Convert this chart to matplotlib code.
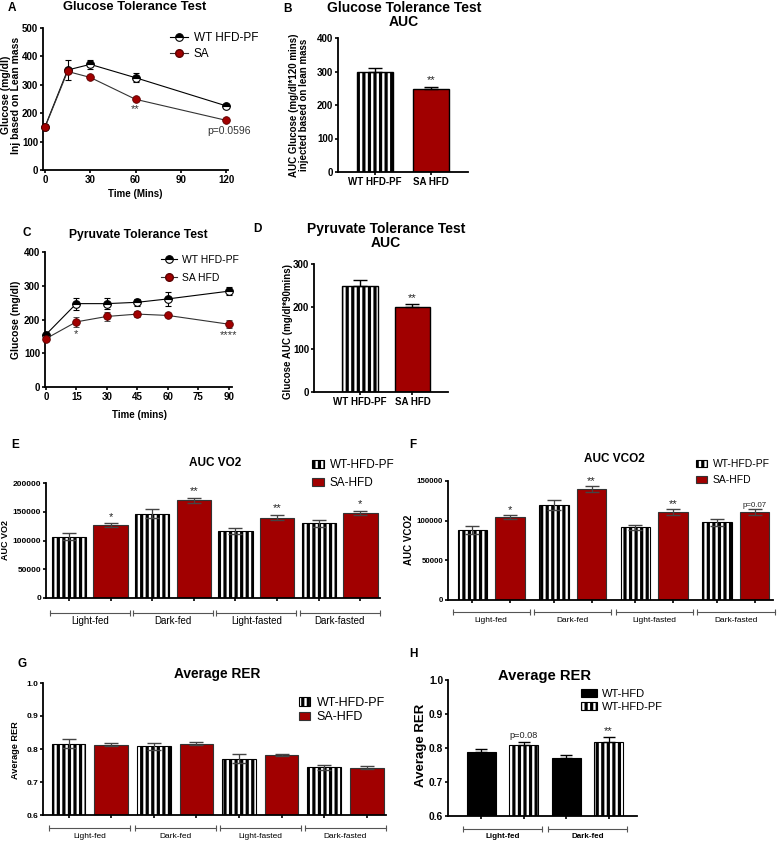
import matplotlib.pyplot as plt
import numpy as np
from matplotlib.lines import Line2D

W, H = 777, 841
RED = "#a10000"
GREY = "#444444"

plt.rcParams["font.family"] = ["Liberation Sans", "DejaVu Sans"]
plt.rcParams["hatch.linewidth"] = 2.3
plt.rcParams["axes.linewidth"] = 1.3

# A: glucose tolerance test
gtt_time = [0, 15, 30, 60, 120]
gtt_wt = [152, 352, 372, 325, 226]
gtt_wt_err = [6, 35, 17, 15, 6]
gtt_sa = [150, 347, 326, 249, 175]
gtt_sa_err = [5, 5, 5, 6, 4]

# B: GTT AUC
gtt_auc_labels = ["WT HFD-PF", "SA HFD"]
gtt_auc = [299, 248]
gtt_auc_err = [12, 7]

# C: pyruvate tolerance test
ptt_time = [0, 15, 30, 45, 60, 90]
ptt_wt = [155, 247, 247, 251, 261, 284]
ptt_wt_err = [6, 18, 16, 10, 20, 12]
ptt_sa = [143, 193, 209, 216, 212, 186]
ptt_sa_err = [8, 14, 14, 8, 5, 12]

# D: PTT AUC
ptt_auc_labels = ["WT HFD-PF", "SA HFD"]
ptt_auc = [249, 199]
ptt_auc_err = [14, 7]

# E-G: metabolic cages
phases = ["Light-fed", "Dark-fed", "Light-fasted", "Dark-fasted"]
vo2_wt = [106600, 146500, 117000, 130300]
vo2_wt_err = [6000, 7500, 5500, 6000]
vo2_sa = [126800, 170000, 140000, 147500]
vo2_sa_err = [3000, 4500, 5000, 4000]
vo2_marks = ["*", "**", "**", "*"]

vco2_wt = [88200, 119700, 91600, 97900]
vco2_wt_err = [5000, 6000, 3400, 4600]
vco2_sa = [104200, 140000, 110900, 110900]
vco2_sa_err = [2500, 3700, 3400, 3400]
vco2_marks = ["*", "**", "**", "p=0.07"]

rer_wt = [0.816, 0.808, 0.771, 0.744]
rer_wt_err = [0.014, 0.011, 0.013, 0.007]
rer_sa = [0.813, 0.816, 0.781, 0.743]
rer_sa_err = [0.005, 0.004, 0.003, 0.004]

# H: RER WT-HFD vs WT-HFD-PF
rer_h_phases = ["Light-fed", "Dark-fed"]
rer_hfd = [0.788, 0.772]
rer_hfd_err = [0.010, 0.007]
rer_pf = [0.810, 0.819]
rer_pf_err = [0.009, 0.012]
rer_h_marks = ["p=0.08", "**"]


def add_ax(fig, box):
    left, top, right, bottom = box
    ax = fig.add_axes([left / W, 1 - bottom / H, (right - left) / W, (bottom - top) / H])
    ax.spines[["top", "right"]].set_visible(False)
    ax.tick_params(direction="out", length=2.5, width=1.2, pad=1)
    return ax


def fig_text(fig, x, y, s, **kw):
    kw.setdefault("ha", "center")
    kw.setdefault("va", "center")
    fig.text(x / W, 1 - y / H, s, **kw)


def set_yticks(ax, ticks, fmt, size):
    ax.set_yticks(ticks, labels=[fmt.format(t) for t in ticks], fontweight="bold", fontsize=size)


def group_brackets(ax, box, centers, half, labels, dy_line, dy_text, size, weight="normal"):
    height = box[3] - box[1]
    trans = ax.get_xaxis_transform()
    for c, lab in zip(centers, labels):
        ax.plot([c - half, c + half], [-dy_line / height] * 2, transform=trans, clip_on=False,
                color="#555555", lw=0.8, marker="|", ms=5, mew=0.8)
        ax.text(c, -dy_text / height, lab, transform=trans, ha="center", va="center",
                fontsize=size, fontweight=weight)


def star(ax, x, y, s, size=8, dy=1.0):
    ax.annotate(s, xy=(x, y), xytext=(0, dy), textcoords="offset points",
                ha="center", va="bottom", fontsize=size, color="#222222")


def legend_at(ax, x, y, size, spacing, **kw):
    ax.legend(loc="upper left", bbox_to_anchor=(x / W, 1 - y / H), bbox_transform=fig.transFigure,
              frameon=False, fontsize=size, labelspacing=spacing, borderpad=0, borderaxespad=0,
              **kw)


def tolerance_panel(ax, t, wt, wt_err, sa, sa_err):
    ax.errorbar(t, wt, yerr=wt_err, color="black", lw=0.8, elinewidth=0.8, capsize=2.5,
                marker="o", ms=5.5, mfc="black", mfcalt="white", fillstyle="top", mec="black",
                mew=0.8, clip_on=False, zorder=3)
    ax.errorbar(t, sa, yerr=sa_err, color="#333333", lw=0.8, elinewidth=0.8, capsize=2.5,
                marker="o", ms=5.5, mfc=RED, mec="#5a0000", mew=0.6, clip_on=False, zorder=4)


def auc_panel(ax, labels, vals, errs, width):
    x = np.arange(len(vals))
    ax.bar(x[0], vals[0], width, color="white", edgecolor="black", hatch="|||", lw=1.0)
    ax.bar(x[1], vals[1], width, color=RED, edgecolor="black", lw=1.0)
    ax.errorbar(x, vals, yerr=[[0] * len(errs), errs], fmt="none", ecolor="black",
                elinewidth=1, capsize=5, capthick=1)
    ax.set_xticks(x, labels=labels, fontweight="bold", fontsize=7)
    return x


def paired_bars(ax, wt, wt_err, sa, sa_err, gap, width):
    g = np.arange(len(wt)) * (2 + gap)
    x_wt, x_sa = g, g + 1
    ax.bar(x_wt, wt, width, color="white", edgecolor="black", hatch="|||", lw=0.8,
           label="WT-HFD-PF")
    ax.bar(x_sa, sa, width, color=RED, edgecolor="#333333", lw=0.8, label="SA-HFD")
    ax.errorbar(x_wt, wt, yerr=wt_err, fmt="none", ecolor=GREY, elinewidth=0.9, capsize=5)
    ax.errorbar(x_sa, sa, yerr=sa_err, fmt="none", ecolor=GREY, elinewidth=0.9, capsize=5)
    ax.set_xticks(np.concatenate([x_wt, x_sa]))
    ax.tick_params(axis="x", labelbottom=False)
    return x_wt, x_sa, g + 0.5


fig = plt.figure(figsize=(W / 100, H / 100), dpi=100)

# ---------------- A ----------------
box_a = (43, 28, 228, 170)
ax = add_ax(fig, box_a)
tolerance_panel(ax, gtt_time, gtt_wt, gtt_wt_err, gtt_sa, gtt_sa_err)
ax.set_xlim(-1.3, 121.3)
ax.set_ylim(0, 500)
ax.set_xticks([0, 30, 60, 90, 120], labels=["0", "30", "60", "90", "120"],
              fontweight="bold", fontsize=7)
set_yticks(ax, [0, 100, 200, 300, 400, 500], "{}", 7)
ax.annotate("**", xy=(60, gtt_sa[3] - gtt_sa_err[3]), xytext=(0, -2), textcoords="offset points",
            ha="center", va="top", fontsize=8, color="#333333")
ax.annotate("p=0.0596", xy=(120, gtt_sa[4]), xytext=(2, -4), textcoords="offset points",
            ha="center", va="top", fontsize=7.5, color="#333333")
handles = [Line2D([], [], color="black", lw=0.8, marker="o", ms=5.5, mfc="black",
                  mfcalt="white", fillstyle="top", mec="black", mew=0.8),
           Line2D([], [], color="#333333", lw=0.8, marker="o", ms=5.5, mfc=RED, mec="#5a0000")]
ax.legend(handles, ["WT HFD-PF", "SA"], loc="upper left", bbox_to_anchor=(170 / W, 1 - 32 / H),
          bbox_transform=fig.transFigure, frameon=False, fontsize=8.5, handlelength=1.5,
          handletextpad=0.5, labelspacing=0.35, borderpad=0, borderaxespad=0)
fig_text(fig, 135, 194, "Time (Mins)", fontsize=7, fontweight="bold")
fig_text(fig, 11, 95, "Glucose (mg/dl)\nInj based on Lean mass", rotation=90, fontsize=7.5,
         fontweight="bold", linespacing=1.0)
fig_text(fig, 135, 7, "Glucose Tolerance Test", fontsize=9.3, fontweight="bold")
fig_text(fig, 12, 8, "A", fontsize=8.5, fontweight="bold")

# ---------------- B ----------------
box_b = (338, 38, 468, 172)
ax = add_ax(fig, box_b)
x = auc_panel(ax, gtt_auc_labels, gtt_auc, gtt_auc_err, 0.65)
ax.set_xlim(-0.66, 1.66)
ax.set_ylim(0, 400)
set_yticks(ax, [0, 100, 200, 300, 400], "{}", 7)
star(ax, x[1], gtt_auc[1] + gtt_auc_err[1], "**")
fig_text(fig, 404, 15, "Glucose Tolerance Test\nAUC", fontsize=10, fontweight="bold",
         linespacing=1.0)
fig_text(fig, 299, 105, "AUC Glucose (mg/dl*120 mins)\ninjected based on lean mass",
         rotation=90, fontsize=7, fontweight="bold", linespacing=1.05)
fig_text(fig, 288, 9, "B", fontsize=8.5, fontweight="bold")

# ---------------- C ----------------
box_c = (45, 252, 232, 387)
ax = add_ax(fig, box_c)
tolerance_panel(ax, ptt_time, ptt_wt, ptt_wt_err, ptt_sa, ptt_sa_err)
ax.set_xlim(-0.4, 91.5)
ax.set_ylim(0, 400)
ticks = [0, 15, 30, 45, 60, 75, 90]
ax.set_xticks(ticks, labels=[str(t) for t in ticks], fontweight="bold", fontsize=7)
set_yticks(ax, [0, 100, 200, 300, 400], "{}", 7)
for i, s in ((1, "*"), (5, "****")):
    ax.annotate(s, xy=(ptt_time[i], ptt_sa[i] - ptt_sa_err[i]), xytext=(0, -1.5),
                textcoords="offset points", ha="center", va="top", fontsize=8, color="#333333")
ax.legend(handles, ["WT HFD-PF", "SA HFD"], loc="upper left",
          bbox_to_anchor=(161 / W, 1 - 255 / H), bbox_transform=fig.transFigure,
          frameon=False, fontsize=7.5, handlelength=1.5, handletextpad=0.5,
          labelspacing=0.75, borderpad=0, borderaxespad=0)
fig_text(fig, 140, 415, "Time (mins)", fontsize=7, fontweight="bold")
fig_text(fig, 16, 320, "Glucose (mg/dl)", rotation=90, fontsize=7.5, fontweight="bold")
fig_text(fig, 138, 235, "Pyruvate Tolerance Test", fontsize=8.7, fontweight="bold")
fig_text(fig, 27, 233, "C", fontsize=8.5, fontweight="bold")

# ---------------- D ----------------
box_d = (314, 264, 448, 392)
ax = add_ax(fig, box_d)
x = auc_panel(ax, ptt_auc_labels, ptt_auc, ptt_auc_err, 0.68)
ax.set_xlim(-0.88, 1.68)
ax.set_ylim(0, 300)
set_yticks(ax, [0, 100, 200, 300], "{}", 7)
star(ax, x[1], ptt_auc[1] + ptt_auc_err[1], "**")
fig_text(fig, 386, 236, "Pyruvate Tolerance Test\nAUC", fontsize=10, fontweight="bold",
         linespacing=1.0)
fig_text(fig, 288, 332, "Glucose AUC (mg/dl*90mins)", rotation=90, fontsize=7,
         fontweight="bold")
fig_text(fig, 257, 229, "D", fontsize=8.5, fontweight="bold")

# ---------------- E ----------------
box_e = (46, 483, 380, 598)
ax = add_ax(fig, box_e)
x_wt, x_sa, centers = paired_bars(ax, vo2_wt, vo2_wt_err, vo2_sa, vo2_sa_err, 0, 0.82)
ax.set_xlim(-0.55, 7.47)
ax.set_ylim(0, 200000)
set_yticks(ax, [0, 50000, 100000, 150000, 200000], "{}", 6)
for xi, v, e, s in zip(x_sa, vo2_sa, vo2_sa_err, vo2_marks):
    star(ax, xi, v + e, s)
group_brackets(ax, box_e, centers, 0.96, phases, 15, 23, 7)
legend_at(ax, 312, 459, 8.5, 0.55, handlelength=1.0, handleheight=0.7, handletextpad=0.5)
fig_text(fig, 6, 540, "AUC VO2", rotation=90, fontsize=6.5, fontweight="bold")
fig_text(fig, 215, 463, "AUC VO2", fontsize=8.5, fontweight="bold")
fig_text(fig, 15, 445, "E", fontsize=8.5, fontweight="bold")

# ---------------- F ----------------
box_f = (448, 481, 773, 600)
ax = add_ax(fig, box_f)
x_wt, x_sa, centers = paired_bars(ax, vco2_wt, vco2_wt_err, vco2_sa, vco2_sa_err, 0.17, 0.79)
ax.set_xlim(-0.65, 8.0)
ax.set_ylim(0, 150000)
set_yticks(ax, [0, 50000, 100000, 150000], "{}", 5.7)
for xi, v, e, s in zip(x_sa, vco2_sa, vco2_sa_err, vco2_marks):
    star(ax, xi, v + e, s, size=8 if s.startswith("*") else 5.7, dy=0.3)
group_brackets(ax, box_f, centers, 1.03, phases, 12, 20, 6)
legend_at(ax, 696, 459, 7.5, 0.6, handlelength=1.1, handleheight=0.7, handletextpad=0.5)
fig_text(fig, 409, 540, "AUC VCO2", rotation=90, fontsize=7, fontweight="bold")
fig_text(fig, 614, 459, "AUC VCO2", fontsize=8.5, fontweight="bold")
fig_text(fig, 413, 445, "F", fontsize=8.5, fontweight="bold")

# ---------------- G ----------------
box_g = (43, 683, 386, 815)
ax = add_ax(fig, box_g)
x_wt, x_sa, centers = paired_bars(ax, rer_wt, rer_wt_err, rer_sa, rer_sa_err, 0, 0.79)
ax.set_xlim(-0.6, 7.45)
ax.set_ylim(0.6, 1.0)
set_yticks(ax, [0.6, 0.7, 0.8, 0.9, 1.0], "{:.1f}", 6)
group_brackets(ax, box_g, centers, 0.95, phases, 13, 21, 6)
legend_at(ax, 299, 697, 9, 0.2, handlelength=0.9, handleheight=0.65, handletextpad=0.5)
fig_text(fig, 16, 750, "Average RER", rotation=90, fontsize=6.6, fontweight="bold")
fig_text(fig, 217, 674, "Average RER", fontsize=9.9, fontweight="bold")
fig_text(fig, 22, 664, "G", fontsize=8.5, fontweight="bold")

# ---------------- H ----------------
box_h = (448, 680, 637, 816)
ax = add_ax(fig, box_h)
g = np.arange(len(rer_hfd)) * 2
ax.bar(g, rer_hfd, 0.69, color="black", edgecolor="black", lw=0.8, label="WT-HFD")
ax.bar(g + 1, rer_pf, 0.69, color="white", edgecolor="black", hatch="|||", lw=0.8,
       label="WT-HFD-PF")
ax.errorbar(g, rer_hfd, yerr=[[0, 0], rer_hfd_err], fmt="none", ecolor="black",
            elinewidth=0.9, capsize=4.5)
ax.errorbar(g + 1, rer_pf, yerr=[[0, 0], rer_pf_err], fmt="none", ecolor="black",
            elinewidth=0.9, capsize=4.5)
for xi, v, e, s in zip(g + 1, rer_pf, rer_pf_err, rer_h_marks):
    star(ax, xi, v + e, s, size=8 if s.startswith("*") else 6.6, dy=0.8)
ax.set_xticks(np.concatenate([g, g + 1]))
ax.tick_params(axis="x", labelbottom=False)
ax.set_xlim(-0.79, 3.67)
ax.set_ylim(0.6, 1.0)
set_yticks(ax, [0.6, 0.7, 0.8, 0.9, 1.0], "{:.1f}", 7.4)
group_brackets(ax, box_h, g + 0.5, 0.93, rer_h_phases, 13, 21, 5.8, weight="bold")
legend_at(ax, 581, 689, 8, 0.25, handlelength=1.4, handleheight=0.7, handletextpad=0.5)
fig_text(fig, 421, 745, "Average RER", rotation=90, fontsize=9.5, fontweight="bold")
fig_text(fig, 545, 676, "Average RER", fontsize=10.6, fontweight="bold")
fig_text(fig, 413, 654, "H", fontsize=8.5, fontweight="bold")

fig.savefig("out.png", dpi=100)
